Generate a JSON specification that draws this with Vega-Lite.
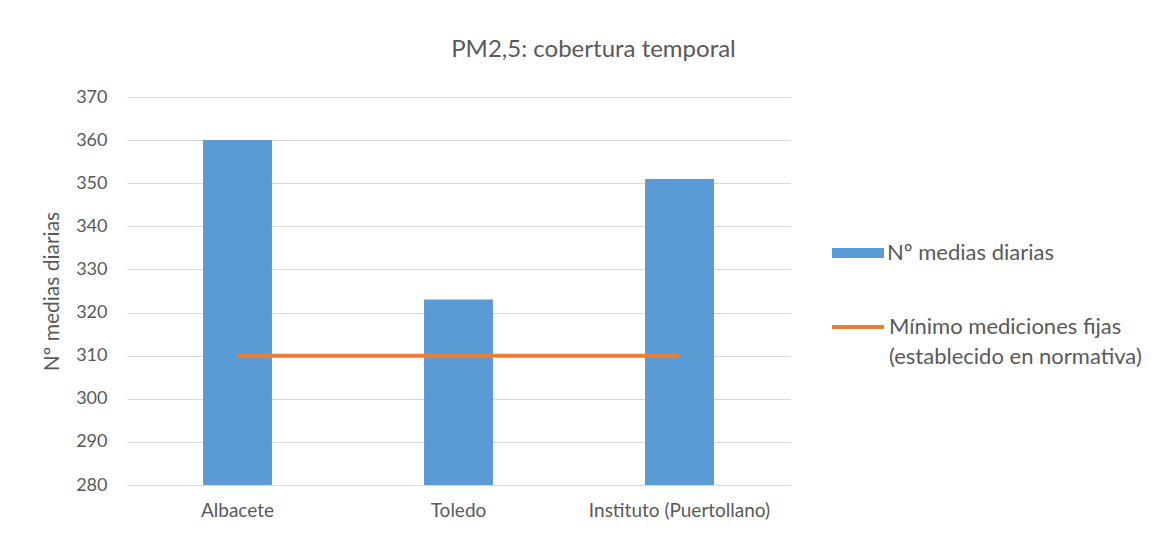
{
  "$schema": "https://vega.github.io/schema/vega-lite/v6.json",
  "width": 663,
  "height": 388,
  "autosize": {"type": "none"},
  "padding": {"left": 127, "top": 97, "right": 378, "bottom": 50},
  "background": "white",
  "config": {
    "font": "Lato",
    "view": {"stroke": null}
  },
  "title": {
    "text": "PM2,5: cobertura temporal",
    "fontSize": 24,
    "fontWeight": "normal",
    "color": "#595959",
    "anchor": "middle",
    "dx": 135,
    "offset": 26
  },
  "data": {
    "values": [
      {"estacion": "Albacete", "medias": 360, "minimo": 310},
      {"estacion": "Toledo", "medias": 323, "minimo": 310},
      {"estacion": "Instituto (Puertollano)", "medias": 351, "minimo": 310}
    ]
  },
  "encoding": {
    "x": {
      "field": "estacion",
      "type": "nominal",
      "sort": null,
      "title": null,
      "scale": {"paddingInner": 0.688, "paddingOuter": 0.344},
      "axis": {
        "labelAngle": 0,
        "labelFontSize": 19,
        "labelColor": "#595959",
        "labelPadding": 16,
        "labelLimit": 400,
        "ticks": false,
        "domainColor": "#D9D9D9",
        "domainWidth": 1
      }
    }
  },
  "layer": [
    {
      "mark": {"type": "bar", "color": "#5B9BD5"},
      "encoding": {
        "y": {
          "field": "medias",
          "type": "quantitative",
          "title": "Nº medias diarias",
          "scale": {"domain": [280, 370], "zero": false},
          "axis": {
            "values": [280, 290, 300, 310, 320, 330, 340, 350, 360, 370],
            "domain": false,
            "ticks": false,
            "gridColor": "#D9D9D9",
            "labelFontSize": 18,
            "labelColor": "#595959",
            "labelPadding": 20,
            "titleFontSize": 21,
            "titleFontWeight": "normal",
            "titleColor": "#595959",
            "titlePadding": 13
          }
        },
        "y2": {"datum": 280},
        "fill": {
          "datum": "Nº medias diarias",
          "scale": {"range": ["#5B9BD5"]},
          "legend": {
            "title": null,
            "orient": "none",
            "legendX": 705,
            "legendY": 130,
            "padding": 0,
            "symbolType": "M-1,-0.19H1V0.19H-1Z",
            "symbolSize": 2704,
            "symbolStrokeWidth": 0,
            "labelFontSize": 22,
            "labelColor": "#595959",
            "labelOffset": 3,
            "labelLimit": 400
          }
        }
      }
    },
    {
      "mark": {"type": "line", "strokeWidth": 4},
      "encoding": {
        "y": {"field": "minimo", "type": "quantitative"},
        "stroke": {
          "datum": "Mínimo mediciones fijas|(establecido en normativa)",
          "scale": {"range": ["#ED7D31"]},
          "legend": {
            "title": null,
            "orient": "none",
            "legendX": 703,
            "legendY": 202,
            "padding": 0,
            "symbolType": "stroke",
            "symbolSize": 2704,
            "symbolStrokeWidth": 4,
            "labelFontSize": 22,
            "labelColor": "#595959",
            "labelOffset": 3,
            "labelLimit": 400,
            "labelExpr": "split(datum.label, '|')",
            "encode": {"labels": {"update": {"lineHeight": {"value": 30}}}}
          }
        }
      }
    }
  ]
}
